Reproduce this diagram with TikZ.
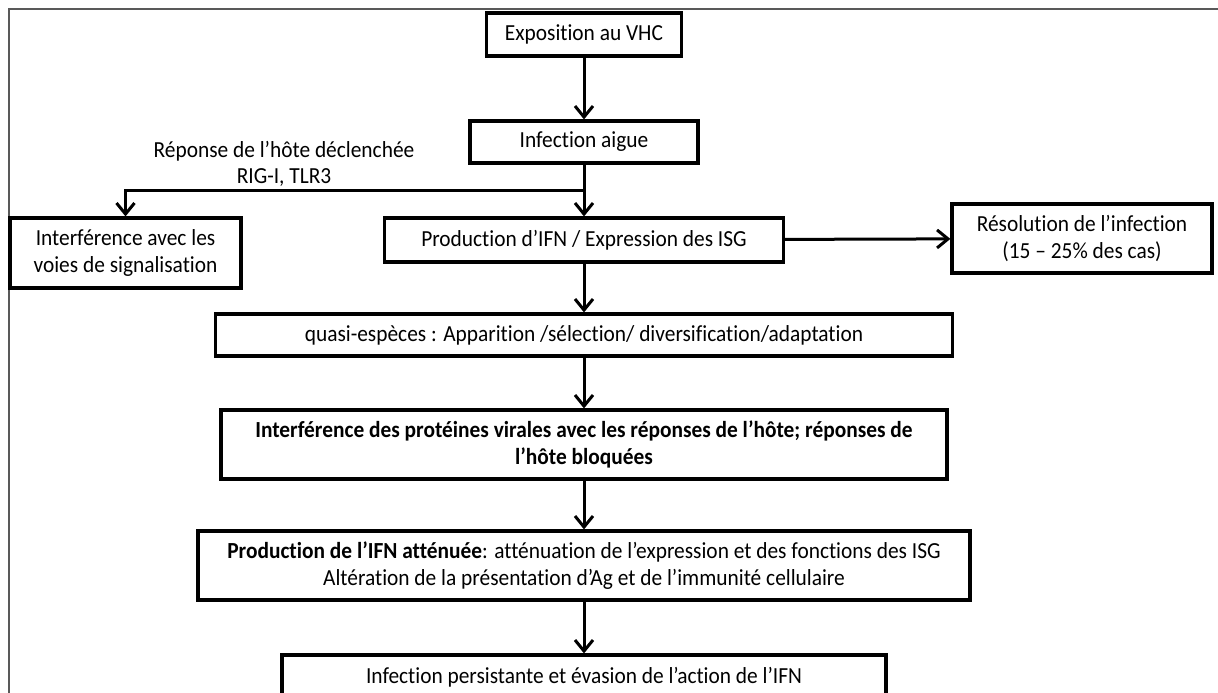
\documentclass[tikz,border=0pt]{standalone}
\usepackage{fontspec}
\setmainfont{Carlito}[FakeStretch=0.93, Ligatures=NoCommon]
\usetikzlibrary{arrows.meta}
\tikzset{
  box/.style={draw, line width=3.2pt, inner sep=0pt, align=center,
    font=\fontsize{23}{26.5}\selectfont},
  conn/.style={line width=3pt, -{Straight Barb[length=11pt,width=18pt]}},
  lbl/.style={inner sep=0pt, align=center, font=\fontsize{23}{26}\selectfont},
  frame/.style={draw=black!65, line width=1.2pt}
}
\begin{document}
\begin{tikzpicture}[x=1pt,y=-1pt]
\useasboundingbox (0,0) rectangle (1218,693);
\draw[frame] (1218,9) -- (9,9) -- (9,693);

\node[box, minimum width=195, minimum height=43] (b1) at (584,34.5) {Exposition au VHC};
\node[box, minimum width=228, minimum height=42] (b2) at (584,142) {Infection aigue};
\node[box, minimum width=399, minimum height=44] (b3) at (584,240) {Production d’IFN / Expression des ISG};
\node[box, minimum width=231, minimum height=70] (bi) at (125.5,253) {Interférence avec les\\voies de signalisation};
\node[box, minimum width=260, minimum height=69] (br) at (1082,238.5) {Résolution de l’infection\\(15 – 25\% des cas)};
\node[box, minimum width=737, minimum height=42] (b4) at (584,335) {quasi-espèces : Apparition /sélection/ diversification/adaptation};
\node[box, minimum width=726, minimum height=69] (b5) at (584,444.5) {\textbf{Interférence des protéines virales avec les réponses de l’hôte; réponses de}\\\textbf{l’hôte bloquées}};
\node[box, minimum width=772, minimum height=69] (b6) at (584,565.5) {\textbf{Production de l’IFN atténuée}: atténuation de l’expression et des fonctions des ISG\\Altération de la présentation d’Ag et de l’immunité cellulaire};
\node[box, minimum width=604, minimum height=44] (b7) at (584,677) {Infection persistante et évasion de l’action de l’IFN};

\node[lbl] (lab) at (284,164) {Réponse de l’hôte déclenchée\\RIG-I, TLR3};

\coordinate (j) at (584,190);

\draw[conn] (b1) -- (b2);
\draw[conn] (b2) -- (b3);
\draw[conn] (j) -| (bi.north);
\draw[conn] (b3) -- (br);
\draw[conn] (b3) -- (b4);
\draw[conn] (b4) -- (b5);
\draw[conn] (b5) -- (b6);
\draw[conn] (b6) -- (b7);
\end{tikzpicture}
\end{document}
